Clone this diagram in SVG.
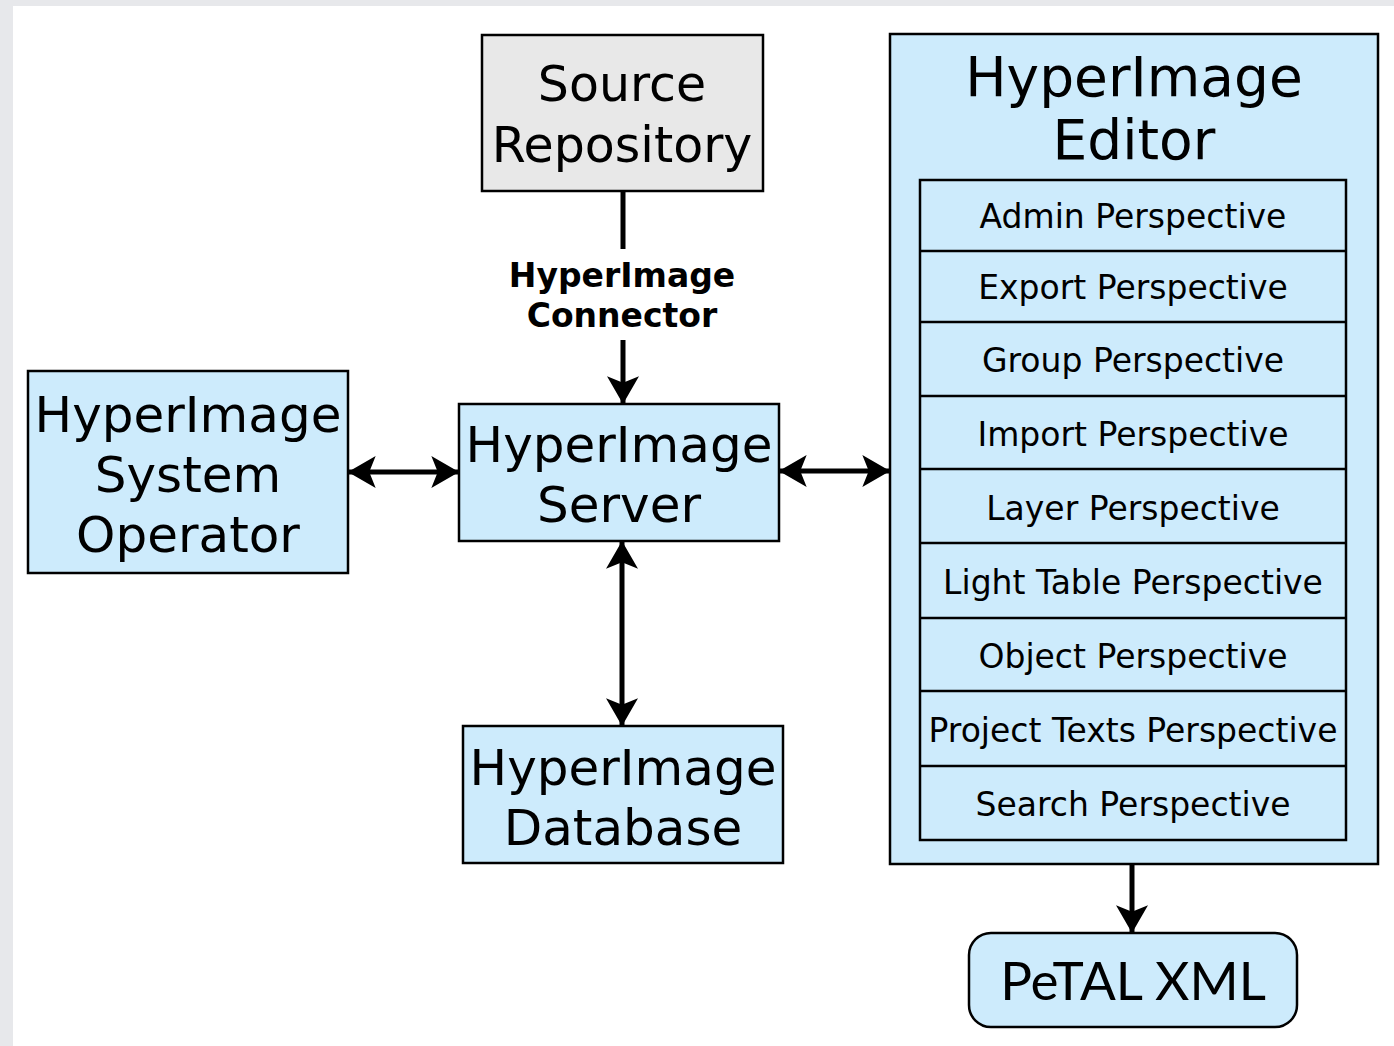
<svg xmlns="http://www.w3.org/2000/svg" width="1394" height="1046" viewBox="0 0 1394 1046">
<style>
.box{fill:#cdebfc;stroke:#000;stroke-width:2.5}
.src{fill:#e8e8e8;stroke:#000;stroke-width:2.5}
.big{font-family:"DejaVu Sans",Verdana,sans-serif;font-size:50px;text-anchor:middle;fill:#000}
.title{font-family:"DejaVu Sans",Verdana,sans-serif;font-size:55px;text-anchor:middle;fill:#000}
.item{font-family:"DejaVu Sans",Verdana,sans-serif;font-size:33px;text-anchor:middle;fill:#000}
.lbl{font-family:"DejaVu Sans",Verdana,sans-serif;font-size:33px;font-weight:bold;text-anchor:middle;fill:#000}
.petal{font-family:Lato,"Open Sans",sans-serif;font-size:53px;text-anchor:middle;fill:#000}
.conn{stroke:#000;stroke-width:5;fill:none}
</style>
<defs>
<marker id="ah" markerUnits="userSpaceOnUse" markerWidth="30" markerHeight="32" viewBox="0 0 26 30" refX="25" refY="15" orient="auto-start-reverse">
<path d="M26,15 L0,0 L6,15 L0,30 Z" fill="#000"/>
</marker>
</defs>
<rect x="0" y="0" width="1394" height="1046" fill="#e7e8eb"/>
<rect x="13" y="6" width="1381" height="1040" fill="#fff"/>

<g id="source">
<rect class="src" x="482" y="35" width="281" height="156"/>
<text class="big" x="622" y="101" style="font-size:49px">Source</text>
<text class="big" x="622" y="162" style="font-size:49px">Repository</text>
</g>

<g id="operator">
<rect class="box" x="28" y="371" width="320" height="202"/>
<text class="big" x="188" y="432">HyperImage</text>
<text class="big" x="188" y="492">System</text>
<text class="big" x="188" y="552">Operator</text>
</g>

<g id="server">
<rect class="box" x="459" y="404" width="320" height="137"/>
<text class="big" x="619" y="462">HyperImage</text>
<text class="big" x="619" y="522">Server</text>
</g>

<g id="database">
<rect class="box" x="463" y="726" width="320" height="137"/>
<text class="big" x="623" y="785">HyperImage</text>
<text class="big" x="623" y="845">Database</text>
</g>

<g id="editor">
<rect class="box" x="890" y="34" width="488" height="830"/>
<text class="title" x="1134" y="96">HyperImage</text>
<text class="title" x="1134" y="159">Editor</text>
<rect class="box" x="920" y="180" width="426" height="660"/>
<g stroke="#000" stroke-width="2.5">
<line x1="920" y1="251" x2="1346" y2="251"/>
<line x1="920" y1="322" x2="1346" y2="322"/>
<line x1="920" y1="396" x2="1346" y2="396"/>
<line x1="920" y1="469" x2="1346" y2="469"/>
<line x1="920" y1="543" x2="1346" y2="543"/>
<line x1="920" y1="618" x2="1346" y2="618"/>
<line x1="920" y1="691" x2="1346" y2="691"/>
<line x1="920" y1="766" x2="1346" y2="766"/>
</g>
<text class="item" x="1133" y="228">Admin Perspective</text>
<text class="item" x="1133" y="299">Export Perspective</text>
<text class="item" x="1133" y="372">Group Perspective</text>
<text class="item" x="1133" y="446">Import Perspective</text>
<text class="item" x="1133" y="520">Layer Perspective</text>
<text class="item" x="1133" y="594">Light Table Perspective</text>
<text class="item" x="1133" y="668">Object Perspective</text>
<text class="item" x="1133" y="742">Project Texts Perspective</text>
<text class="item" x="1133" y="816">Search Perspective</text>
</g>

<g id="petal">
<rect class="box" x="969" y="933" width="328" height="94" rx="22" ry="22"/>
<text class="petal" x="1133" y="1000">PeTAL XML</text>
</g>

<g id="connectors">
<line class="conn" x1="623" y1="191" x2="623" y2="249"/>
<text class="lbl" x="622" y="287">HyperImage</text>
<text class="lbl" x="622" y="327">Connector</text>
<line class="conn" x1="623" y1="340" x2="623" y2="403" marker-end="url(#ah)"/>
<line class="conn" x1="349" y1="472" x2="458" y2="472" marker-start="url(#ah)" marker-end="url(#ah)"/>
<line class="conn" x1="780" y1="471" x2="889" y2="471" marker-start="url(#ah)" marker-end="url(#ah)"/>
<line class="conn" x1="622" y1="542" x2="622" y2="725" marker-start="url(#ah)" marker-end="url(#ah)"/>
<line class="conn" x1="1132" y1="865" x2="1132" y2="932" marker-end="url(#ah)"/>
</g>
</svg>
